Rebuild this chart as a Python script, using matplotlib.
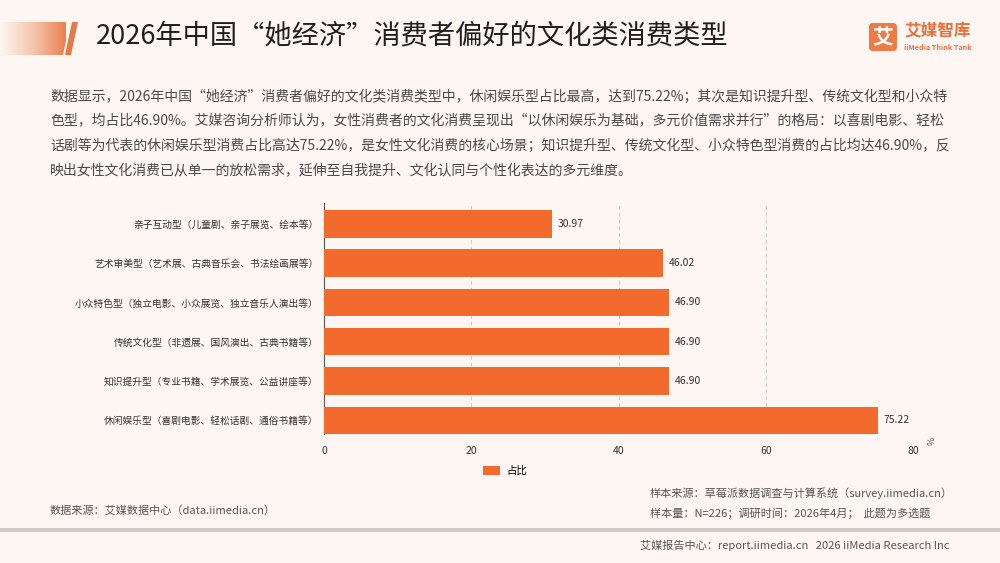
import matplotlib
matplotlib.use("Agg")
import matplotlib.pyplot as plt
import numpy as np
from matplotlib.patches import Polygon, FancyBboxPatch, Rectangle
from matplotlib.colors import LinearSegmentedColormap

plt.rcParams['font.family'] = ['Noto Sans CJK SC', 'DejaVu Sans']

# ---- data ----
categories = [
    "休闲娱乐型（喜剧电影、轻松话剧、通俗书籍等）",
    "知识提升型（专业书籍、学术展览、公益讲座等）",
    "传统文化型（非遗展、国风演出、古典书籍等）",
    "小众特色型（独立电影、小众展览、独立音乐人演出等）",
    "艺术审美型（艺术展、古典音乐会、书法绘画展等）",
    "亲子互动型（儿童剧、亲子展览、绘本等）",
]
values = [75.22, 46.90, 46.90, 46.90, 46.02, 30.97]
series_name = "占比"
x_ticks = [0, 20, 40, 60, 80]

title = "2026年中国“她经济”消费者偏好的文化类消费类型"
paragraph = [
    "数据显示，2026年中国“她经济”消费者偏好的文化类消费类型中，休闲娱乐型占比最高，达到75.22%；其次是知识提升型、传统文化型和小众特",
    "色型，均占比46.90%。艾媒咨询分析师认为，女性消费者的文化消费呈现出“以休闲娱乐为基础，多元价值需求并行”的格局：以喜剧电影、轻松",
    "话剧等为代表的休闲娱乐型消费占比高达75.22%，是女性文化消费的核心场景；知识提升型、传统文化型、小众特色型消费的占比均达46.90%，反",
    "映出女性文化消费已从单一的放松需求，延伸至自我提升、文化认同与个性化表达的多元维度。",
]
source_left = "数据来源：艾媒数据中心（data.iimedia.cn）"
source_right1 = "样本来源：草莓派数据调查与计算系统（survey.iimedia.cn）"
source_right2 = "样本量：N=226；调研时间：2026年4月；  此题为多选题"
footer = "艾媒报告中心：report.iimedia.cn   2026 iiMedia Research Inc"

BG = "#FDF6F3"
BAR = "#F26B2D"

fig = plt.figure(figsize=(10, 5.63), dpi=100)
fig.patch.set_facecolor(BG)

W, H = 1000, 563
def fx(px): return px / W
def fy(py): return 1 - py / H

# ---- header accent gradient ----
ax_bg = fig.add_axes([0, 0, 1, 1], zorder=-1)
ax_bg.set_xlim(0, W); ax_bg.set_ylim(H, 0); ax_bg.axis("off")
grad = np.linspace(0, 1, 256).reshape(1, -1)
cmap = LinearSegmentedColormap.from_list("g", [BG, "#F5C7AE", "#E9804F"])
im = ax_bg.imshow(grad, extent=[0, 66, 55, 22], cmap=cmap, aspect="auto")
clip = Polygon([[0, 22], [70, 22], [63, 55], [0, 55]], closed=True, transform=ax_bg.transData)
im.set_clip_path(clip)
ax_bg.add_patch(Polygon([[72, 22], [78, 22], [71, 55], [65, 55]], closed=True,
                        facecolor="#E27A4C", edgecolor="none"))
# footer gray line
ax_bg.add_patch(Rectangle((0, 528), W, 3.5, facecolor="#CFCBC6", edgecolor="none"))

# ---- logo ----
ax_bg.add_patch(FancyBboxPatch((869, 23), 28, 28, boxstyle="round,pad=0,rounding_size=4",
                               facecolor="#EE7A45", edgecolor="none"))
ax_bg.text(883, 37.5, "艾", color="white", fontsize=15, fontweight="bold",
           ha="center", va="center")
ax_bg.text(904, 31, "艾媒智库", color="#E8703A", fontsize=12, fontweight="bold",
           ha="left", va="center")
ax_bg.text(904, 47, "iiMedia Think Tank", color="#E8703A", fontsize=5.2,
           ha="left", va="center", fontweight="bold")

# ---- title & paragraph ----
fig.text(fx(96), fy(36), title, fontsize=19.6, color="#1E1E1E", ha="left", va="center")
for i, line in enumerate(paragraph):
    fig.text(fx(50), fy(97 + i * 24.6), line, fontsize=10, color="#4A4A4A",
             ha="left", va="center")

# ---- chart ----
ax = fig.add_axes([fx(324), fy(434), fx(913) - fx(324), (434 - 203) / H])
ax.set_facecolor("none")
y = np.arange(len(categories))
bars = ax.barh(y, values, height=0.7, color=BAR, label=series_name, zorder=3)
for yi, v in zip(y, values):
    ax.text(v + 0.8, yi, f"{v:.2f}", va="center", ha="left", fontsize=7.5, color="#333333")
ax.set_xlim(0, 80)
ax.set_ylim(-0.35, 5.53)
ax.set_yticks(y)
ax.set_yticklabels(categories, fontsize=7, color="#333333")
ax.set_xticks(x_ticks)
ax.set_xticklabels([str(t) for t in x_ticks], fontsize=7.5, color="#333333")
ax.tick_params(axis="x", length=0, pad=9)
ax.tick_params(axis="y", length=0, pad=4)
for s in ["top", "right", "bottom"]:
    ax.spines[s].set_visible(False)
ax.spines["left"].set_color("#555555")
ax.spines["left"].set_linewidth(0.8)
ax.grid(axis="x", linestyle=(0, (4, 3)), color="#CCCCCC", linewidth=0.7, zorder=0)
ax.text(1.032, -0.01, "%", transform=ax.transAxes, rotation=90, fontsize=6.5,
        color="#555555", ha="center", va="top")

leg = fig.legend(handles=[bars], labels=[series_name], loc="center",
                 bbox_to_anchor=(fx(505), fy(471)), frameon=False, fontsize=7.5,
                 handlelength=1.6, handleheight=0.9, handletextpad=0.6)

# ---- sources & footer ----
fig.text(fx(50), fy(510), source_left, fontsize=8, color="#555555", ha="left", va="center")
fig.text(fx(650), fy(493), source_right1, fontsize=8, color="#555555", ha="left", va="center")
fig.text(fx(650), fy(513), source_right2, fontsize=8, color="#555555", ha="left", va="center")
fig.text(fx(640), fy(545), footer, fontsize=8, color="#555555", ha="left", va="center")

fig.savefig("out.png", dpi=100, facecolor=BG)
